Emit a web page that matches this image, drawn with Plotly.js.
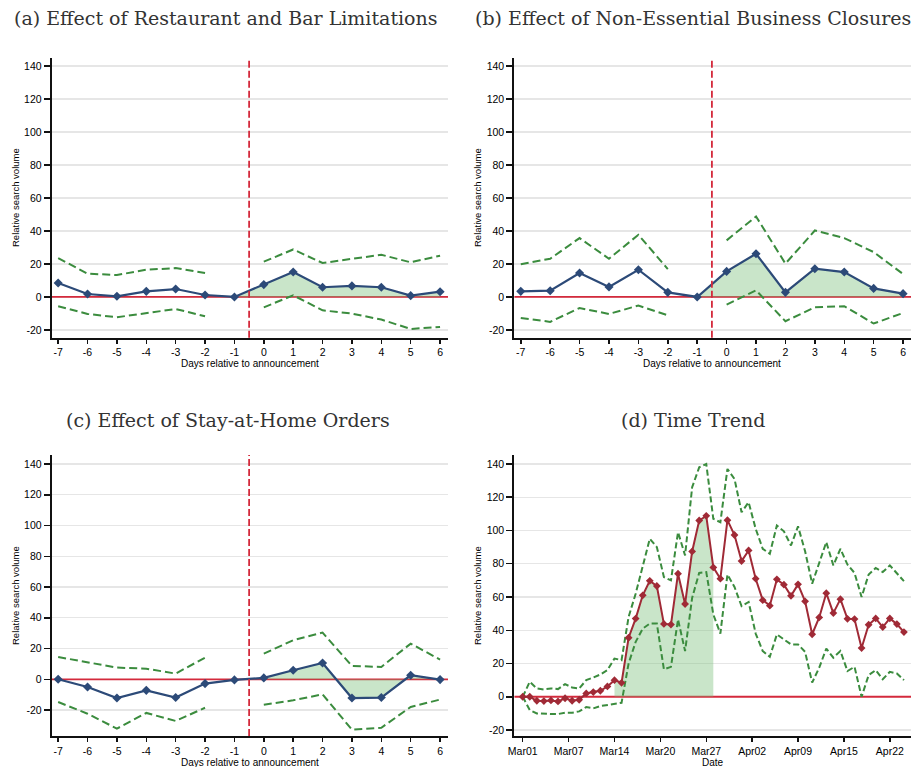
<!DOCTYPE html>
<html>
<head>
<meta charset="utf-8">
<script src="https://cdn.plot.ly/plotly-3.0.1.min.js"></script>
<style>
  html, body { margin: 0; padding: 0; background: #fff; }
  #chart { width: 912px; height: 767px; }
</style>
</head>
<body>
<div id="chart"></div>
<script>
// Event-study days relative to the policy announcement
const days = [-7, -6, -5, -4, -3, -2, -1, 0, 1, 2, 3, 4, 5, 6];
const dayLabels = ['-7', '-6', '-5', '-4', '-3', '-2', '-1', '0', '1', '2', '3', '4', '5', '6'];

// (a) Restaurant and bar limitations
const restEst = [8.5, 1.8, 0.4, 3.4, 4.8, 1.2, 0, 7.5, 15.1, 5.9, 6.7, 5.9, 0.8, 3.2];
const restHi  = [23.6, 14.1, 13.3, 16.5, 17.5, 14.5, null, 21.4, 28.8, 20.6, 23.2, 25.6, 21, 25];
const restLo  = [-5.6, -10.3, -12.3, -9.7, -7.3, -11.7, null, -6.3, 1, -8.1, -10.1, -13.7, -19.4, -18.2];

// (b) Non-essential business closures
const closeEst = [3.4, 3.8, 14.5, 6.1, 16.5, 2.8, 0, 15.5, 26.2, 2.8, 17.1, 15.1, 5.2, 2];
const closeHi  = [19.8, 23.2, 35.7, 23.2, 37.7, 16.9, null, 34.3, 48.8, 20.2, 40.3, 35.7, 27.2, 13.9];
const closeLo  = [-12.7, -15.1, -6.7, -10.3, -5.2, -11.1, null, -4.6, 4, -14.7, -6.3, -5.6, -16.1, -9.7];

// (c) Stay-at-home orders
const stayEst = [0, -5, -12.2, -7.2, -11.9, -2.8, -0.4, 0.9, 5.9, 10.6, -12.2, -11.9, 2.6, -0.2];
const stayHi  = [14.5, 11.3, 7.6, 6.9, 3.7, 14.1, null, 16.7, 25.4, 30.4, 8.7, 8, 23.2, 12.8];
const stayLo  = [-14.8, -22.4, -32.1, -21.9, -27.1, -18.5, null, -16.5, -13.7, -9.8, -32.8, -31.5, -18, -13.2];

// (d) Daily time trend, day 0 = Mar 01
const trendEst = [0, 0, -2.4, -2.6, -2.2, -2.8, -0.9, -2.4, -1.8, 2, 2.8, 3.6, 6.2, 10, 8.4,
  35.5, 47, 61, 69.7, 66.6, 43.8, 43.4, 74, 55.8, 87.4, 106, 108.8, 77.8, 71,
  106.2, 97.3, 81.6, 88, 71, 58.1, 54.8, 70.6, 67.4, 60.7, 67.6, 57.4,
  37.6, 47.7, 62.3, 50.3, 58.7, 46.9, 46.7, 29.3, 43.3, 47.1, 41.9, 47.1, 43.7, 38.9];
const trendHi = [0, 9, 5, 4.4, 5, 4.6, 7.6, 5.6, 5, 10, 11.6, 13.4, 16, 23, 22,
  48, 62, 78, 95, 90, 72, 70, 99, 85, 126, 138, 140, 107, 105,
  137, 131, 111, 117, 101, 89, 86, 103, 99.5, 91, 102.5, 87.5,
  68, 80, 93, 79, 89, 79.5, 74.5, 60, 73.5, 77.5, 75, 79, 74, 69.5];
const trendLo = [0, -8, -10, -10.4, -10.4, -10.4, -9.6, -9.6, -8.8, -6.2, -7, -5.6, -4.8, -4.2, -3.6,
  20, 33, 41, 44, 44, 16.5, 18, 46.5, 27.5, 59.5, 74.5, 75, 49.5, 38,
  73.5, 66, 54.5, 57, 38, 27.5, 24, 37.5, 34.5, 31.5, 31.5, 27,
  8.5, 17.5, 29, 23.5, 27.5, 15.5, 18, 0, 13, 16, 10.5, 15, 14, 10];
const dateTicks = [0, 6.5, 13, 19.5, 26, 32.5, 39, 45.5, 52];
const dateLabels = ['Mar01', 'Mar07', 'Mar14', 'Mar20', 'Mar27', 'Apr02', 'Apr09', 'Apr15', 'Apr22'];
const shadeStart = 13, shadeEnd = 27;   // Mar14 .. Mar28

const yTicks = [-20, 0, 20, 40, 60, 80, 100, 120, 140];

const NAVY = '#2c4a78';
const MAROON = '#a02a36';
const GREEN = '#3b8c3e';
const RED = '#d42a3c';
const FILL = 'rgba(120,190,120,0.40)';
const W = 912, H = 767;

const dayRange = [-7.22, 6.27];
const dateRange = [-1.19, 55.0];

const traces = [];
const shapes = [];
const annotations = [];

// horizontal reference line at zero, drawn first so everything else sits on top
function zeroLine(xa, ya, range) {
  traces.push({ x: range, y: [0, 0], xaxis: xa, yaxis: ya, type: 'scatter', mode: 'lines',
    line: { color: RED, width: 1.8 }, hoverinfo: 'skip' });
}

function eventPanel(n, est, hi, lo) {
  const xa = 'x' + (n === 1 ? '' : n), ya = 'y' + (n === 1 ? '' : n);
  zeroLine(xa, ya, dayRange);
  const post = days.map((d, i) => i).filter(i => days[i] >= -1);
  traces.push({ x: post.map(i => days[i]), y: post.map(i => est[i]), xaxis: xa, yaxis: ya,
    type: 'scatter', mode: 'none', fill: 'tozeroy', fillcolor: FILL, hoverinfo: 'skip' });
  [hi, lo].forEach(b => traces.push({ x: days, y: b, xaxis: xa, yaxis: ya, type: 'scatter',
    mode: 'lines', connectgaps: false, line: { color: GREEN, width: 2, dash: '8px,4px' } }));
  traces.push({ x: days, y: est, xaxis: xa, yaxis: ya, type: 'scatter', mode: 'lines+markers',
    line: { color: NAVY, width: 2.2 }, marker: { symbol: 'diamond', size: 7, color: NAVY } });
  shapes.push({ type: 'line', xref: xa, x0: -0.5, x1: -0.5, yref: ya + ' domain', y0: 0, y1: 1,
    line: { color: RED, width: 1.8, dash: '7px,3px' } });
}

eventPanel(1, restEst, restHi, restLo);
eventPanel(2, closeEst, closeHi, closeLo);
eventPanel(3, stayEst, stayHi, stayLo);

// (d) time trend
zeroLine('x4', 'y4', dateRange);
const tIdx = trendEst.map((v, i) => i);
const shadeIdx = tIdx.filter(i => i >= shadeStart && i <= shadeEnd);
traces.push({ x: shadeIdx, y: shadeIdx.map(i => trendEst[i]), xaxis: 'x4', yaxis: 'y4',
  type: 'scatter', mode: 'none', fill: 'tozeroy', fillcolor: FILL, hoverinfo: 'skip' });
[trendHi, trendLo].forEach(b => traces.push({ x: tIdx, y: b, xaxis: 'x4', yaxis: 'y4',
  type: 'scatter', mode: 'lines', line: { color: GREEN, width: 2, dash: '6px,3px' } }));
traces.push({ x: tIdx, y: trendEst, xaxis: 'x4', yaxis: 'y4', type: 'scatter', mode: 'lines+markers',
  line: { color: MAROON, width: 2 }, marker: { symbol: 'diamond', size: 6, color: MAROON } });

const tickFont = { family: 'Liberation Sans, Arial, sans-serif', size: 10.5, color: '#000' };
function xAxis(domain, anchor, range, vals, text) {
  return { domain, anchor, range, tickmode: 'array', tickvals: vals, ticktext: text,
    showline: true, linecolor: '#111', linewidth: 2, ticks: 'outside', ticklen: 4, tickwidth: 1.5,
    tickcolor: '#111', showgrid: false, zeroline: false, tickfont: tickFont, fixedrange: true };
}
function yAxis(domain, anchor, range) {
  return { domain, anchor, range, tickmode: 'array', tickvals: yTicks, ticktext: yTicks.map(String),
    showline: true, linecolor: '#111', linewidth: 2, ticks: 'outside', ticklen: 6, tickwidth: 1.5,
    tickcolor: '#111', showgrid: true, gridcolor: '#e6e6e6', gridwidth: 1.2, zeroline: false,
    tickfont: tickFont, fixedrange: true };
}
const colL = [51.7 / W, 448 / W], colR = [514.3 / W, 911 / W];
const rowT = [1 - 337.7 / H, 1 - 58.3 / H], rowB = [1 - 736 / H, 1 - 455 / H];

function label(text, px, py, size, opts) {
  annotations.push(Object.assign({ text, x: px / W, y: 1 - py / H, xref: 'paper', yref: 'paper',
    showarrow: false, xanchor: 'center', yanchor: 'middle',
    font: { family: 'Liberation Sans, Arial, sans-serif', size, color: '#000' } }, opts || {}));
}
const serif = { family: 'DejaVu Serif, serif', size: 19, color: '#333' };
label('(a) Effect of Restaurant and Bar Limitations', 226, 18, 19, { font: serif });
label('(b) Effect of Non-Essential Business Closures', 693, 18, 19, { font: serif });
label('(c) Effect of Stay-at-Home Orders', 228, 420, 19, { font: serif });
label('(d) Time Trend', 693, 420, 19, { font: serif });
label('Relative search volume', 15, 198, 9.5, { textangle: -90 });
label('Relative search volume', 477, 198, 9.5, { textangle: -90 });
label('Relative search volume', 15, 596, 9.5, { textangle: -90 });
label('Relative search volume', 477, 596, 9.5, { textangle: -90 });
label('Days relative to announcement', 250, 363, 10);
label('Days relative to announcement', 712, 363, 10);
label('Days relative to announcement', 250, 762, 10);
label('Date', 713, 762, 10);

const layout = {
  width: W, height: H, margin: { l: 0, r: 0, t: 0, b: 0 },
  paper_bgcolor: '#fff', plot_bgcolor: '#fff', showlegend: false,
  xaxis:  xAxis(colL, 'y',  dayRange, days, dayLabels),
  yaxis:  yAxis(rowT, 'x',  [-24.7, 144.7]),
  xaxis2: xAxis(colR, 'y2', dayRange, days, dayLabels),
  yaxis2: yAxis(rowT, 'x2', [-24.7, 144.7]),
  xaxis3: xAxis(colL, 'y3', dayRange, days, dayLabels),
  yaxis3: yAxis(rowB, 'x3', [-36.9, 145.9]),
  xaxis4: xAxis(colR, 'y4', dateRange, dateTicks, dateLabels),
  yaxis4: yAxis(rowB, 'x4', [-23.6, 145.4]),
  shapes, annotations
};

Plotly.newPlot('chart', traces, layout, { staticPlot: true, displayModeBar: false });
</script>
</body>
</html>
